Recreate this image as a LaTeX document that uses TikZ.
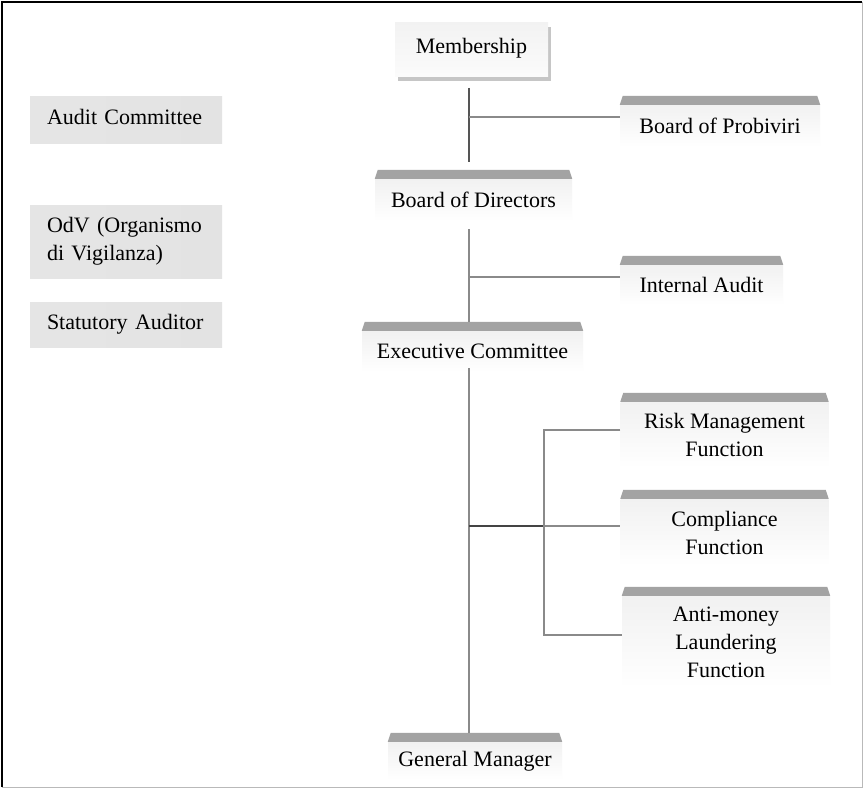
\documentclass[tikz,border=0pt]{standalone}
\usepackage{fontspec}
\setmainfont{Liberation Serif}
\usetikzlibrary{calc}
\definecolor{barc}{HTML}{A3A3A3}
\definecolor{shadc}{HTML}{C6C6C6}
\definecolor{linec}{HTML}{8A8A8A}
\definecolor{darkc}{HTML}{555555}
\tikzset{
  lbl/.style={font=\fontsize{22}{28}\selectfont, text=black},
  body/.style={lbl, draw=none, top color=gray!11, bottom color=white, align=center, inner sep=0pt},
  face/.style={lbl, draw=none, top color=gray!10, bottom color=gray!3, align=center, inner sep=0pt},
  side/.style={lbl, draw=none, left color=gray!20, middle color=gray!7, right color=gray!22,
    align=left, inner xsep=17pt, inner ysep=0pt, text width=158pt},
  conn/.style={draw=linec, line width=1.1pt},
  thickconn/.style={draw=darkc, line width=2pt},
  darkconn/.style={draw=darkc!80!black, line width=1.3pt}
}
\newcommand\topbar[1]{\fill[barc] (#1.north west) -- ++(3,-9) -- ($(#1.north east)+(-3,-9)$) -- (#1.north east) -- cycle;}
\begin{document}
\begin{tikzpicture}[x=1pt,y=-1pt]
\useasboundingbox (0,0) rectangle (864,789);
\fill[white] (0,0) rectangle (864,789);
% frame
\draw[gray!55, line width=1pt] (862,2) -- (862,787) -- (2,787);
\draw[black, line width=1.3pt] (2,787) -- (2,2) -- (862,2);

% Membership with shadow
\fill[shadc] (398,27) rectangle (551,81);
\node[face, minimum width=153pt, minimum height=54pt, text depth=8pt] (mem) at (471.5,50) {Membership};

% bar boxes
\node[body, minimum width=200pt, minimum height=42pt] (prob) at (720,126) {Board of Probiviri};
\topbar{prob}
\node[body, minimum width=197pt, minimum height=42pt] (dir) at (473.5,200) {Board of Directors};
\topbar{dir}
\node[body, minimum width=163pt, minimum height=40pt] (ia) at (701.5,285) {Internal Audit};
\topbar{ia}
\node[body, minimum width=221pt, minimum height=41pt] (exec) at (472.5,351.5) {Executive Committee};
\topbar{exec}
\node[body, minimum width=208pt, minimum height=66pt] (risk) at (724.5,435) {Risk Management\\Function};
\topbar{risk}
\node[body, minimum width=208pt, minimum height=67pt] (comp) at (724.5,532.5) {Compliance\\Function};
\topbar{comp}
\node[body, minimum width=208pt, minimum height=92pt] (aml) at (726,642) {Anti-money\\Laundering\\Function};
\topbar{aml}
\node[body, minimum width=174pt, minimum height=38pt] (gm) at (475,761) {General Manager};
\topbar{gm}

% left boxes
\node[side, minimum height=46pt, text depth=6pt] (aud) at (126,120) {Audit Committee};
\node[side, minimum height=73pt] (odv) at (126,241.5) {OdV (Organismo\\di Vigilanza)};
\node[side, minimum height=45pt] (stat) at (126,324.5) {Statutory Auditor};

% connectors
\coordinate (a1) at (469,88);
\coordinate (a2) at (469,162);
\coordinate (j1) at (469,117);
\draw[thickconn] (a1) -- (a2);
\draw[conn] (j1) -- (prob.west |- j1);

\coordinate (b1) at (469,229);
\coordinate (b2) at (469,322);
\coordinate (j2) at (469,277);
\draw[conn] (b1) -- (b2);
\draw[conn] (j2) -- (ia.west |- j2);

\coordinate (c1) at (469,368);
\coordinate (c2) at (469,733);
\coordinate (j3) at (469,526);
\coordinate (k3) at (544,526);
\coordinate (k1) at (544,430);
\coordinate (k2) at (544,635);
\draw[conn] (c1) -- (c2);
\draw[darkconn] (j3) -- (k3);
\draw[conn] (k3) -- (comp.west |- k3);
\draw[conn] (risk.west |- k1) -- (k1) -- (k2) -- (aml.west |- k2);
\end{tikzpicture}
\end{document}
